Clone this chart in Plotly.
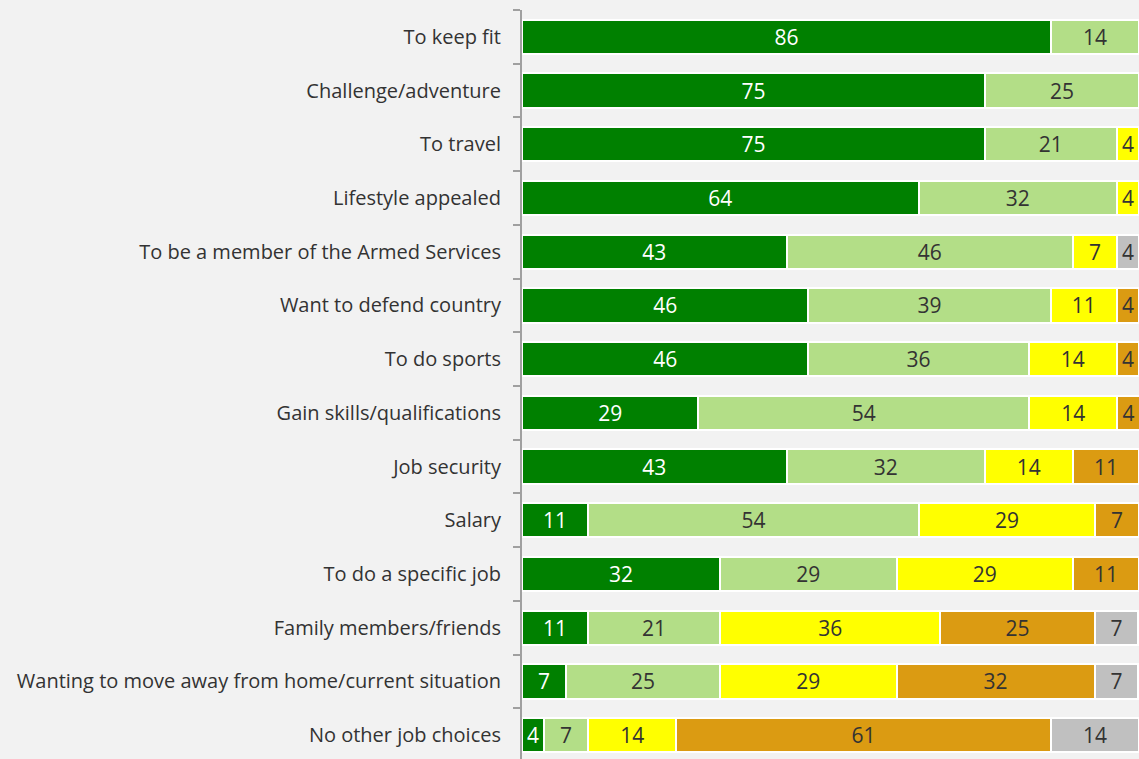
import plotly.graph_objects as go

categories = [
    "To keep fit",
    "Challenge/adventure",
    "To travel",
    "Lifestyle appealed",
    "To be a member of the Armed Services",
    "Want to defend country",
    "To do sports",
    "Gain skills/qualifications",
    "Job security",
    "Salary",
    "To do a specific job",
    "Family members/friends",
    "Wanting to move away from home/current situation",
    "No other job choices",
]

s1 = [85.7, 75.0, 75.0, 64.3, 42.9, 46.4, 46.4, 28.6, 42.9, 10.7, 32.1, 10.7, 7.1, 3.6]
s2 = [14.3, 25.0, 21.4, 32.1, 46.4, 39.3, 35.7, 53.6, 32.1, 53.6, 28.6, 21.4, 25.0, 7.1]
s3 = [None, None, 3.6, 3.6, 7.1, 10.7, 14.3, 14.3, 14.3, 28.6, 28.6, 35.7, 28.6, 14.3]
s4 = [None, None, None, None, None, 3.6, 3.6, 3.6, 10.7, 7.1, 10.7, 25.0, 32.1, 60.7]
s5 = [None, None, None, None, 3.6, None, None, None, None, None, None, 7.1, 7.1, 14.3]

series = [s1, s2, s3, s4, s5]
colors = ["#008000", "#b3de87", "#ffff00", "#db9b12", "#c0c0c0"]
text_colors = ["#ffffff", "#333333", "#333333", "#333333", "#333333"]

fig = go.Figure()
for vals, col, tc in zip(series, colors, text_colors):
    fig.add_trace(go.Bar(
        y=categories, x=vals, orientation="h",
        marker=dict(color=col, line=dict(color="#ffffff", width=2)),
        texttemplate="%{x:.0f}", textposition="inside",
        insidetextanchor="middle", textangle=0,
        textfont=dict(color=tc, size=21, family="Open Sans"),
        hoverinfo="skip",
    ))

fig.update_layout(
    barmode="stack",
    bargap=0.36,
    width=1139, height=762,
    margin=dict(l=522, r=0, t=10, b=0),
    paper_bgcolor="#f2f2f2",
    plot_bgcolor="#f2f2f2",
    showlegend=False,
    uniformtext=dict(minsize=21, mode="show"),
    font=dict(family="Open Sans", color="#333333"),
)
fig.update_xaxes(range=[0, 100], visible=False, showgrid=False, zeroline=False)
fig.update_yaxes(
    autorange="reversed",
    showline=True, linecolor="#a0a0a0", linewidth=2,
    ticks="outside", tickson="boundaries", ticklen=7, tickwidth=2, tickcolor="#a0a0a0",
    ticklabelstandoff=15,
    tickfont=dict(size=20, color="#333333", family="Open Sans"),
    showgrid=False,
)

fig.write_html("out.html")
